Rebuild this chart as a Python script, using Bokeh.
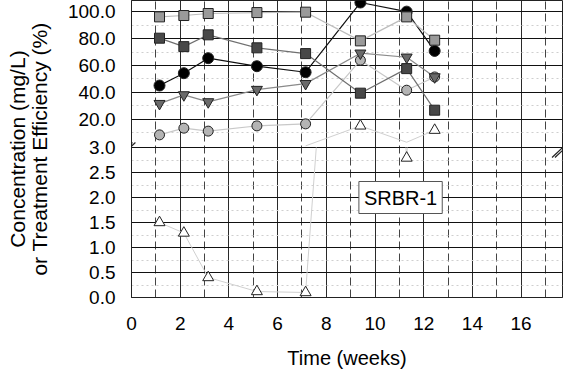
from bokeh.plotting import figure
from bokeh.models import FixedTicker, Label, Arrow
from bokeh.embed import file_html
from bokeh.resources import INLINE

# ---------------- data ----------------
weeks = [1.15, 2.15, 3.15, 5.15, 7.15, 9.4, 11.3, 12.45]
light_squares = [96.3, 97.3, 98.8, 99.5, 99.8, 78.4, 96.3, 78.9]
dark_squares = [80.4, 74.1, 82.9, 73.2, 68.9, 39.4, 57.7, 26.7]
black_circles = [45.1, 54.3, 65.5, 59.5, 55.0, 107.0, 100.2, 70.9]
inv_triangles = [31.6, 38.1, 32.9, 42.1, 46.5, 69.2, 66.2, 51.5]
light_circles = [8.3, 13.3, 11.1, 15.0, 16.5, 64.0, 41.6, 51.5]
open_triangles = [1.5, 1.29, 0.40, 0.12, 0.10, 15.0, 2.79, 11.8]
open_tri_panel = ["low", "low", "low", "low", "low", "high", "low", "high"]

x_ticks = [0, 2, 4, 6, 8, 10, 12, 14, 16]
x_minor = [1, 3, 5, 7, 9, 11, 13, 15, 17]
low_ticks = [0.0, 0.5, 1.0, 1.5, 2.0, 2.5, 3.0]
low_minor = [0.25, 0.75, 1.25, 1.75, 2.25, 2.75]
high_ticks = [20, 40, 60, 80, 100]
high_minor = [10, 30, 50, 70, 90]
panel_label = "SRBR-1"

# broken axis: lower panel 0..3 as is, upper panel mapped above it
LOW_MAX = 3.0
HIGH_BASE = 3.03
HIGH_SCALE = 0.02682
Y_TOP = 5.94


def hi(v):
    return HIGH_BASE + v * HIGH_SCALE


def clip_seg(x1, y1, x2, y2, lo, hi_):
    # clip segment to lo <= y <= hi_
    if y1 == y2:
        return (x1, y1, x2, y2) if lo <= y1 <= hi_ else None
    t0, t1 = 0.0, 1.0
    for bound, is_lo in ((lo, True), (hi_, False)):
        t = (bound - y1) / (y2 - y1)
        if is_lo == (y2 > y1):
            t0 = max(t0, t)
        else:
            t1 = min(t1, t)
    if t0 > t1:
        return None
    return (x1 + t0 * (x2 - x1), y1 + t0 * (y2 - y1),
            x1 + t1 * (x2 - x1), y1 + t1 * (y2 - y1))


FONT = "Liberation Sans"

p = figure(width=573, height=381, output_backend="svg", toolbar_location=None,
           x_range=(0, 17.7), y_range=(0, Y_TOP),
           min_border_left=131, min_border_right=11, min_border_top=0,
           min_border_bottom=84)
p.background_fill_color = "white"
p.border_fill_color = "white"
p.outline_line_color = "#222222"
p.outline_line_width = 1

# ticks / labels
yt = low_ticks + [hi(v) for v in high_ticks]
ym = low_minor + [hi(v) for v in high_minor]
p.yaxis.ticker = FixedTicker(ticks=yt, minor_ticks=ym)
overrides = {}
for v in low_ticks:
    overrides[v] = "%.1f" % v
for v in high_ticks:
    overrides[hi(v)] = "%.1f" % v
p.yaxis.major_label_overrides = overrides
p.xaxis.ticker = FixedTicker(ticks=x_ticks, minor_ticks=x_minor)

for ax in (p.xaxis[0], p.yaxis[0]):
    ax.major_tick_line_color = None
    ax.minor_tick_line_color = None
    ax.axis_line_color = "#222222"
    ax.major_label_text_font = FONT
    ax.major_label_text_font_size = "19px"
    ax.major_label_text_color = "black"
    ax.axis_label_text_font = FONT
    ax.axis_label_text_font_size = "21px"
    ax.axis_label_text_font_style = "normal"
    ax.axis_label_text_color = "black"
    ax.axis_label_text_line_height = 0.95

p.yaxis.axis_label = "Concentration (mg/L)\nor Treatment Efficiency (%)"
p.yaxis.major_label_standoff = 10
p.yaxis.axis_label_standoff = 14
p.xaxis.axis_label = "Time (weeks)"
p.xaxis.axis_label_text_font_size = "20px"
p.xaxis.major_label_standoff = 13
p.xaxis.axis_label_standoff = 14

# grids
p.ygrid.ticker = FixedTicker(ticks=yt, minor_ticks=ym)
p.ygrid.grid_line_color = "#111111"
p.ygrid.grid_line_width = 1
p.ygrid.minor_grid_line_color = "#cfcfcf"
p.ygrid.minor_grid_line_dash = "2 3"
p.xgrid.ticker = FixedTicker(ticks=x_ticks, minor_ticks=x_minor)
p.xgrid.grid_line_color = "#2a2a2a"
p.xgrid.grid_line_width = 1
p.xgrid.minor_grid_line_color = "#444444"
p.xgrid.minor_grid_line_dash = "8 4"


def series(vals, marker, fill, line_col, size=10):
    ys = [hi(v) for v in vals]
    p.line(weeks, ys, line_color=line_col, line_width=1.2)
    p.scatter(weeks, ys, marker=marker, size=size, fill_color=fill,
              line_color="#222222", line_width=1)


series(light_circles, "circle", "#b4b4b4", "#c8c8c8")

# open triangles: split across panels
low_xs, low_ys, high_xs, high_ys = [], [], [], []
for i in range(len(weeks) - 1):
    x1, x2 = weeks[i], weeks[i + 1]
    v1, v2 = open_triangles[i], open_triangles[i + 1]
    pa, pb = open_tri_panel[i], open_tri_panel[i + 1]
    if pa == "low" or pb == "low":
        s = clip_seg(x1, v1, x2, v2, 0.0, LOW_MAX)
        if s:
            low_xs.append([s[0], s[2]])
            low_ys.append([s[1], s[3]])
    if pa == "high" or pb == "high":
        s = clip_seg(x1, hi(v1), x2, hi(v2), LOW_MAX, Y_TOP)
        if s:
            high_xs.append([s[0], s[2]])
            high_ys.append([s[1], s[3]])
p.multi_line(low_xs, low_ys, line_color="#d0d0d0", line_width=1)
p.multi_line(high_xs, high_ys, line_color="#d0d0d0", line_width=1)
ot_y = [v if pn == "low" else hi(v) for v, pn in zip(open_triangles, open_tri_panel)]
p.scatter(weeks, ot_y, marker="triangle", size=11, fill_color="white",
          line_color="#222222", line_width=1)

series(inv_triangles, "inverted_triangle", "#6a6a6a", "#8a8a8a", size=11)
series(black_circles, "circle", "black", "#111111", size=11)
series(dark_squares, "square", "#484848", "#707070")
series(light_squares, "square", "#9a9a9a", "#bdbdbd")

# panel label
p.add_layout(Label(x=11.05, y=2.0, text=panel_label, text_align="center",
                   text_baseline="middle", text_font=FONT, text_font_size="20px",
                   text_color="black", background_fill_color="white",
                   border_line_color="#555555", border_line_width=1, padding=5))

# break marks
for xc, yc in ((-0.12, 3.0), (17.55, 2.9)):
    for dx in (-0.06, 0.06):
        p.add_layout(Arrow(end=None, start=None,
                           x_start=xc + dx - 0.22, y_start=yc - 0.1,
                           x_end=xc + dx + 0.22, y_end=yc + 0.1,
                           line_color="#222222", line_width=1.2))

open("out.html", "w").write(file_html(p, INLINE))
